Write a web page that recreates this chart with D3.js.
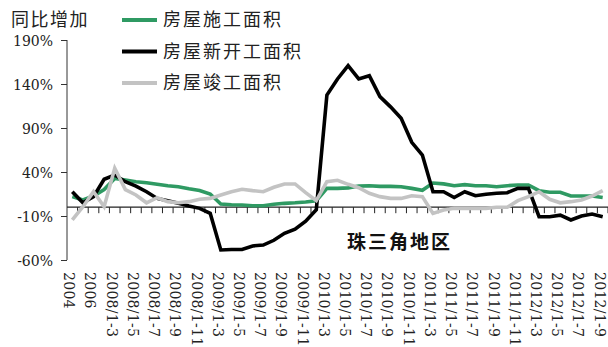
<!DOCTYPE html>
<html>
<head>
<meta charset="utf-8">
<script src="https://cdn.jsdelivr.net/npm/d3@7"></script>
<style>
  html, body { margin: 0; padding: 0; background: #fff; }
  svg { display: block; }
  text.num { font-family: "DejaVu Serif", serif; }
  text.cjk { font-family: "Noto Sans CJK SC", "Noto Sans", sans-serif; }
</style>
</head>
<body>
<svg id="chart" width="608" height="347"></svg>
<script>
// Categories: annual figures for 2004–2007, then cumulative Jan–month figures
const categories = [
  "2004", "2005", "2006", "2007",
  "2008/1-3", "2008/1-4", "2008/1-5", "2008/1-6", "2008/1-7", "2008/1-8", "2008/1-9", "2008/1-10", "2008/1-11", "2008/1-12",
  "2009/1-3", "2009/1-4", "2009/1-5", "2009/1-6", "2009/1-7", "2009/1-8", "2009/1-9", "2009/1-10", "2009/1-11", "2009/1-12",
  "2010/1-3", "2010/1-4", "2010/1-5", "2010/1-6", "2010/1-7", "2010/1-8", "2010/1-9", "2010/1-10", "2010/1-11", "2010/1-12",
  "2011/1-3", "2011/1-4", "2011/1-5", "2011/1-6", "2011/1-7", "2011/1-8", "2011/1-9", "2011/1-10", "2011/1-11", "2011/1-12",
  "2012/1-3", "2012/1-4", "2012/1-5", "2012/1-6", "2012/1-7", "2012/1-8", "2012/1-9"
];

// Year-on-year growth, %
const underConstruction = [
  12, 8.2, 12.7, 20, 32.6, 30.9, 29, 27.8, 26, 24.4, 23.3, 21, 19, 15,
  3.6, 2.8, 2.5, 1.7, 1.7, 3.3, 4.4, 5, 5.9, 7.4,
  21.4, 21.4, 22, 24, 24.4, 23.7, 23.7, 23.3, 21.4, 19.2,
  27.5, 26.5, 24.4, 25.6, 24.4, 24.4, 23.3, 24.4, 25.2, 25.2,
  18.8, 17, 17, 12.7, 12.7, 12.7, 11
];
const newStarts = [
  17.6, 5, 12, 31.7, 36.6, 29, 24, 17.6, 10, 7.4, 4.4, 1.4, -1.3, -7,
  -48.6, -48, -48, -44, -43, -37.6, -29.7, -25, -16, -3,
  127.5, 145.7, 160.8, 145.7, 149.4, 125.6, 114, 101, 73.7, 59.3,
  17.6, 17.6, 11, 17.6, 13, 14.7, 15.8, 16.5, 21.4, 21.4,
  -10.8, -10.8, -9, -14.5, -10, -7.7, -10.8
];
const completions = [
  -14.5, 0.6, 17.6, 0.6, 44.2, 20, 13.9, 5, 10.8, 6.3, 5, 6.3, 9, 10,
  13.9, 17.6, 20.3, 18.8, 17.6, 22.6, 26.4, 26.4, 16.5, 7.4,
  29, 30.6, 26, 22.2, 15.8, 12, 10, 10, 13, 12,
  -7, -3.2, -1.3, -1.3, -1.3, -1.3, -0.1, -0.1, 7.4, 12,
  17.6, 9, 5, 6.3, 8.2, 12.7, 18.8
];

const seriesNames = ["房屋施工面积", "房屋新开工面积", "房屋竣工面积"];
const seriesColors = ["#2f9a63", "#000000", "#c3c3c3"];
const yTicks = [-60, -10, 40, 90, 140, 190];
const xTickLabels = categories.filter((d, i) => i % 2 === 0);
const yTitle = "同比增加";
const regionLabel = "珠三角地区";

const series = [underConstruction, newStarts, completions].map((values, k) => ({
  name: seriesNames[k], color: seriesColors[k], values
}));

const svg = d3.select("#chart");

const x = d3.scaleBand().domain(categories).range([67, 608]).padding(0);
const y = d3.scaleLinear().domain([-60, 190]).range([260, 40]);

// Y axis with outward ticks and percent labels
const yAxis = d3.axisLeft(y).tickValues(yTicks).tickSize(6).tickFormat(d => d + "%");
const gy = svg.append("g").attr("transform", "translate(67,0)").call(yAxis)
  .attr("font-family", null).attr("font-size", null);
gy.select(".domain").attr("stroke", "#333").attr("d", "M0,40V260");
gy.selectAll(".tick line").attr("stroke", "#333");
gy.selectAll(".tick text")
  .attr("class", "num")
  .attr("x", -14)
  .attr("dy", "0.42em")
  .attr("fill", "#222")
  .style("font-size", "14px");

// Category axis sitting on the zero line, ticks between categories
const zeroY = y(0);
const gx = svg.append("g").attr("transform", `translate(0,${zeroY})`);
gx.append("line")
  .attr("x1", 67).attr("x2", 608)
  .attr("stroke", "#222").attr("stroke-width", 1.2);
const boundaries = categories.map(c => x(c)).concat([x.range()[1]]).slice(1);
gx.selectAll("line.tk").data(boundaries).join("line")
  .attr("class", "tk")
  .attr("x1", d => d).attr("x2", d => d)
  .attr("y1", 0).attr("y2", 6)
  .attr("stroke", "#222");

// Rotated category labels at the bottom
svg.append("g").selectAll("text").data(xTickLabels).join("text")
  .attr("class", "num")
  .style("font-size", "14px")
  .style("letter-spacing", "0.3px")
  .attr("fill", "#222")
  .attr("transform", d => `translate(${x(d) + x.bandwidth() / 2 - 3},272) rotate(90)`)
  .attr("dy", "0.36em")
  .attr("text-anchor", "start")
  .text(d => d);

// Series lines
const line = d3.line()
  .x((d, i) => x(categories[i]) + x.bandwidth() / 2)
  .y(d => y(d));

svg.append("g").selectAll("path").data(series).join("path")
  .attr("d", s => line(s.values))
  .attr("fill", "none")
  .attr("stroke", s => s.color)
  .attr("stroke-width", 3.6)
  .attr("stroke-linejoin", "miter");

// Y title
svg.append("text")
  .attr("class", "cjk")
  .attr("x", 11).attr("y", 20)
  .attr("dy", "0.36em")
  .attr("fill", "#222")
  .style("font-size", "18px")
  .style("letter-spacing", "1.5px")
  .text(yTitle);

// Legend
const legend = svg.append("g");
const legendRows = legend.selectAll("g").data(series).join("g")
  .attr("transform", (d, i) => `translate(122,${20 + i * 31.5})`);
legendRows.append("line")
  .attr("x1", 0).attr("x2", 35)
  .attr("stroke", d => d.color)
  .attr("stroke-width", 4);
legendRows.append("text")
  .attr("class", "cjk")
  .attr("x", 41)
  .attr("dy", "0.36em")
  .attr("fill", "#222")
  .style("font-size", "18px")
  .style("letter-spacing", "2px")
  .text(d => d.name);

// Region label
svg.append("text")
  .attr("class", "cjk")
  .attr("x", 347).attr("y", 242)
  .attr("dy", "0.36em")
  .attr("fill", "#111")
  .style("font-size", "19px")
  .style("font-weight", "bold")
  .style("letter-spacing", "2px")
  .text(regionLabel);
</script>
</body>
</html>
